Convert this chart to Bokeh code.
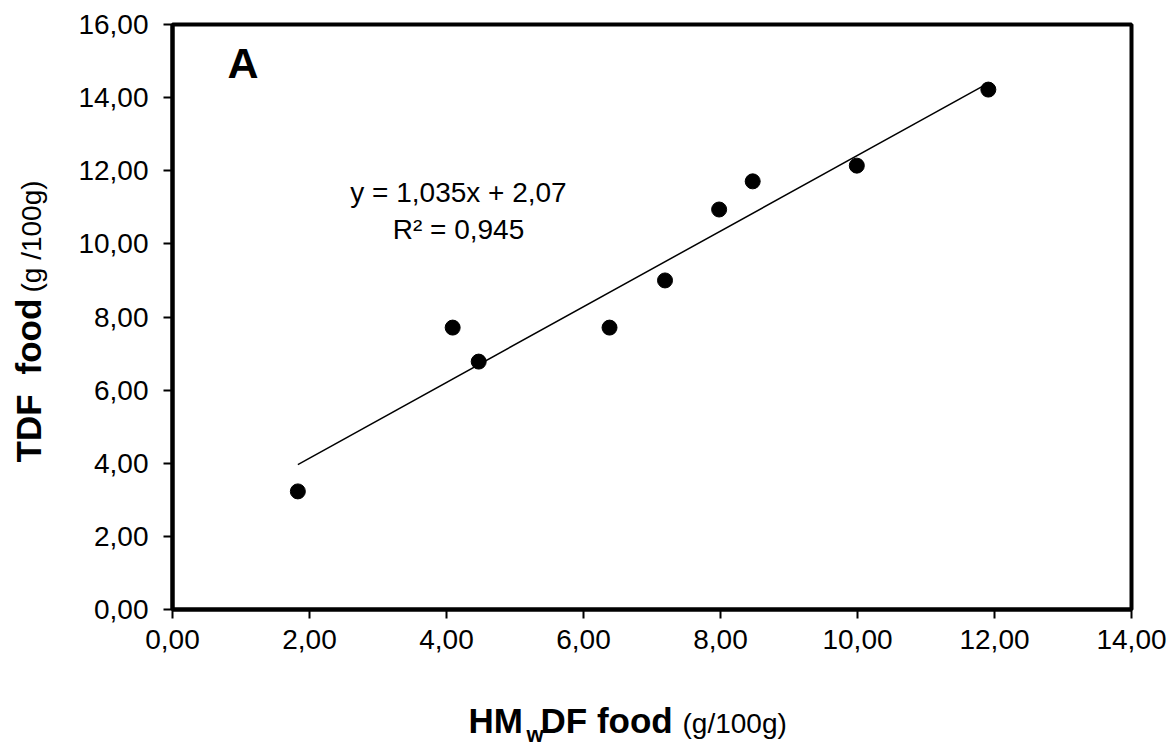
import math
from bokeh.plotting import figure
from bokeh.models import Label, FixedTicker, Range1d
from bokeh.layouts import column, row
from bokeh.core.properties import value
from bokeh.embed import file_html
from bokeh.resources import INLINE

# Measured samples: high-molecular-weight DF vs total DF (g/100g)
hmw_df = [1.83, 4.09, 4.47, 6.38, 7.19, 7.98, 8.47, 9.99, 11.91]
tdf = [3.23, 7.71, 6.78, 7.71, 9.00, 10.94, 11.71, 12.14, 14.22]

# Linear fit reported on the chart
slope = 1.035
intercept = 2.07
r_squared = 0.945

x_ticks = [0, 2, 4, 6, 8, 10, 12, 14]
y_ticks = [0, 2, 4, 6, 8, 10, 12, 14, 16]

FONT = "Liberation Sans"
INK = "#000000"
W, H = 1174, 747
YT_W = 60                 # strip holding the y-axis title
TOP_H = 665               # height of the row with the main plot
XT_H = H - TOP_H          # strip holding the x-axis title
FRAME_TOP, FRAME_BOTTOM = 24, 609
LEFT, RIGHT = 172 - YT_W, 43
TOP, BOTTOM = FRAME_TOP, TOP_H - FRAME_BOTTOM
X_MAX, Y_MAX = 14, 16
DROP = 0.4                # text sits this many em below its anchor


def fmt(v, nd=2):
    return f"{v:.{nd}f}".replace(".", ",")


def base(pos, size):
    # anchor so the drawn baseline lands on pos (pixels)
    return pos - DROP * size


p = figure(width=W - YT_W, height=TOP_H, x_range=(0, X_MAX), y_range=(0, Y_MAX),
           output_backend="svg", toolbar_location=None,
           min_border_left=LEFT, min_border_right=RIGHT,
           min_border_top=TOP, min_border_bottom=BOTTOM)
p.grid.visible = False
p.outline_line_color = "black"
p.outline_line_width = 4

fw = W - YT_W - LEFT - RIGHT
fh = FRAME_BOTTOM - FRAME_TOP


def dx(px):
    # canvas pixel column -> data x
    return (px - YT_W - LEFT) / fw * X_MAX


def dy(py):
    # canvas pixel row -> data y
    return (FRAME_BOTTOM - py) / fh * Y_MAX


for ax, ticks in ((p.xaxis, x_ticks), (p.yaxis, y_ticks)):
    ax.ticker = FixedTicker(ticks=ticks)
    ax.major_label_overrides = {t: fmt(t) for t in ticks}
    ax.axis_line_color = "black"
    ax.axis_line_width = 4
    ax.major_tick_line_color = "black"
    ax.major_tick_line_width = 2
    ax.major_tick_out = 9
    ax.major_tick_in = 0
    ax.minor_tick_line_color = None
    ax.major_label_text_font = FONT
    ax.major_label_text_font_size = "28px"
    ax.major_label_text_color = INK
p.xaxis.major_label_standoff = 11
p.yaxis.major_label_standoff = 15

# trend line across the data span
x0, x1 = min(hmw_df), max(hmw_df)
p.line([x0, x1], [slope * x0 + intercept, slope * x1 + intercept],
       line_color="black", line_width=1.5)

p.scatter(hmw_df, tdf, size=15, marker="circle",
          fill_color="black", line_color="black")

# panel letter
p.add_layout(Label(x=dx(227), y=dy(base(80, 43)), text="A", text_font=FONT,
                   text_font_size="43px", text_font_style="bold",
                   text_align="left", text_baseline="alphabetic",
                   text_color=INK))

# regression annotation
eq = f"y = {fmt(slope, 3)}x + {fmt(intercept)}"
r2 = f"R² = {fmt(r_squared, 3)}"
for txt, row_px in ((eq, 203), (r2, 240)):
    p.add_layout(Label(x=dx(458), y=dy(base(row_px, 28)), text=txt,
                       text_font=FONT, text_font_size="28px",
                       text_align="center", text_baseline="alphabetic",
                       text_color=INK))

# y-axis title strip: its frame lines up with the main frame rows,
# so the y range is given in canvas rows from FRAME_BOTTOM up to FRAME_TOP
yt = figure(width=YT_W, height=TOP_H, x_range=Range1d(0, YT_W),
            y_range=Range1d(FRAME_BOTTOM, FRAME_TOP),
            output_backend="svg", toolbar_location=None,
            x_axis_location=None, y_axis_location=None,
            min_border=0, outline_line_color=None)
yt.grid.visible = False
yt.text(x=[42 - DROP * 35] * 2, y=[462, 374], text=["TDF", "food"],
        angle=math.pi / 2, text_font=value(FONT), text_font_size="35px",
        text_font_style="bold", text_align="left",
        text_baseline="alphabetic", text_color=INK)
yt.text(x=[42 - DROP * 28], y=[292], text=["(g /100g)"], angle=math.pi / 2,
        text_font=value(FONT), text_font_size="28px",
        text_align="left", text_baseline="alphabetic", text_color=INK)

# x-axis title strip: HM_wDF food (g/100g), rows counted down from its top
xt = figure(width=W, height=XT_H, x_range=Range1d(0, W),
            y_range=Range1d(XT_H, 0),
            output_backend="svg", toolbar_location=None,
            x_axis_location=None, y_axis_location=None,
            min_border=0, outline_line_color=None)
xt.grid.visible = False
bl = 734 - TOP_H
xt.text(x=[468, 540], y=[base(bl, 35)] * 2, text=["HM", "DF food"],
        text_font=value(FONT), text_font_size="35px", text_font_style="bold",
        text_align="left", text_baseline="alphabetic", text_color=INK)
xt.text(x=[526], y=[base(bl + 9, 22)], text=["w"],
        text_font=value(FONT), text_font_size="22px", text_font_style="bold",
        text_align="left", text_baseline="alphabetic", text_color=INK)
xt.text(x=[682], y=[base(bl, 28)], text=["(g/100g)"],
        text_font=value(FONT), text_font_size="28px",
        text_align="left", text_baseline="alphabetic", text_color=INK)

layout = column(row(yt, p), xt)
open("out.html", "w").write(file_html(layout, INLINE))
